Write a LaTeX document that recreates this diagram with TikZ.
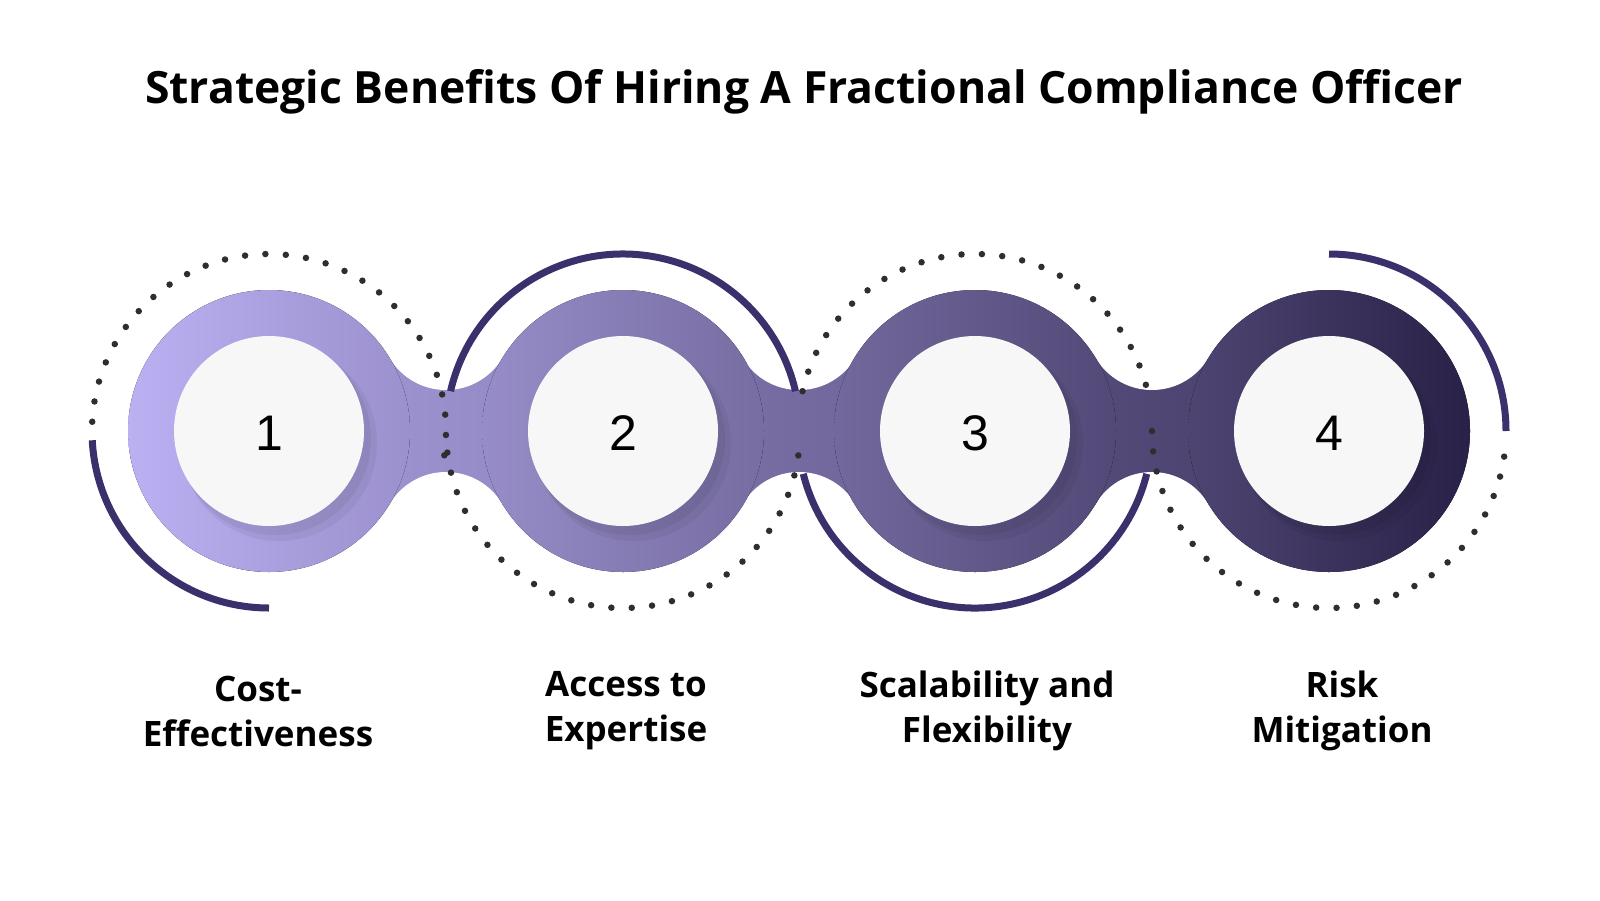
\documentclass[tikz,border=0pt]{standalone}
\usepackage{fontspec}
\setmainfont{Open Sans}
\newfontfamily\numfont{Liberation Sans}
\begin{document}
\begin{tikzpicture}[x=1pt,y=-1pt,
  arcsolid/.style={line width=7pt,color=arcc},
  arcdot/.style={line width=6.5pt,color=dotc,line cap=round,dash pattern=on 0pt off 20.4pt},
  numtxt/.style={font=\numfont\fontsize{50}{60}\selectfont},
  lbl/.style={align=center,font=\fontsize{35}{45}\selectfont\bfseries}]
\definecolor{cL}{HTML}{BBB0F2}
\definecolor{cR}{HTML}{2A2148}
\definecolor{arcc}{HTML}{3B306C}
\definecolor{dotc}{HTML}{2E2E2E}
\useasboundingbox[fill=white] (0,0) rectangle (1600,900);
\node[font=\fontsize{44.5}{52}\selectfont\bfseries] (title) at (804,92) {Strategic Benefits Of Hiring A Fractional Compliance Officer};
\def\R{141}
% necks
\foreach \m/\pa/\pb in {446/21/26, 799/46/51, 1152/71/76}{
  \fill[left color=cR!\pa!cL,right color=cR!\pb!cL] (\m-57,431-73) rectangle (\m+57,431+73);
  \fill[white] (\m,431-106.6) circle (65.6);
  \fill[white] (\m,431+106.6) circle (65.6);
}
\foreach \c/\pa/\pb/\i in {269/0/22/1, 623/25/47/2, 975/50/72/3, 1329/75/100/4}{
  \fill[left color=cR!\pa!cL,right color=cR!\pb!cL] (\c,431) circle (\R);
  \fill[black,opacity=0.05] (\c+10,431+12) circle (98);
  \fill[black,opacity=0.05] (\c+6,431+8) circle (96);
  \fill[white!97!black] (\c,431) circle (95);
  \node[numtxt] (n\i) at (\c,433) {\i};
}
% decorations (y axis flipped: angles negated)
\def\A{177}
\draw[arcsolid] (269,431) ++(-183:\A) arc (-183:-270:\A);
\draw[arcdot] (269,431) ++(-177:\A) arc (-177:11:\A);
\draw[arcsolid] (623,431) ++(-167:\A) arc (-167:-13:\A);
\draw[arcdot] (623,431) ++(173:\A) arc (173:7:\A);
\draw[arcdot] (975,431) ++(-167:\A) arc (-167:-13:\A);
\draw[arcsolid] (975,431) ++(166:\A) arc (166:14:\A);
\draw[arcsolid] (1329,431) ++(-90:\A) arc (-90:0:\A);
\draw[arcdot] (1329,431) ++(180:\A) arc (180:4:\A);
% labels
\node[lbl] (l1) at (258,711) {Cost-\\Effectiveness};
\node[lbl] (l2) at (626,711) {Access to\\Expertise};
\node[lbl] (l3) at (987,711) {Scalability and\\Flexibility};
\node[lbl] (l4) at (1342,711) {Risk\\Mitigation};
\end{tikzpicture}
\end{document}
